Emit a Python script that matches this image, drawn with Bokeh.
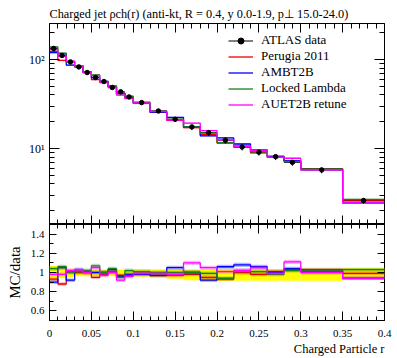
from bokeh.plotting import figure
from bokeh.models import (ColumnDataSource, FixedTicker, LinearAxis, LogAxis, Range1d,
                          Legend, LegendItem, CustomJSTickFormatter, Title)
from bokeh.layouts import column
from bokeh.embed import file_html
from bokeh.resources import INLINE

# ---------------- data ----------------
bin_lo = [0.00, 0.01, 0.02, 0.03, 0.04, 0.05, 0.06, 0.07, 0.08, 0.09,
          0.10, 0.12, 0.14, 0.16, 0.18, 0.20, 0.22, 0.24, 0.26, 0.28,
          0.30, 0.35]
bin_hi = [0.01, 0.02, 0.03, 0.04, 0.05, 0.06, 0.07, 0.08, 0.09, 0.10,
          0.12, 0.14, 0.16, 0.18, 0.20, 0.22, 0.24, 0.26, 0.28, 0.30,
          0.35, 0.40]
atlas_data = [133, 111, 94, 82.6, 71.4, 62.8, 56.6, 48.5, 43.3, 38.0,
              32.8, 26.4, 21.3, 17.5, 15.1, 12.4, 10.4, 9.1, 8.1, 7.0,
              5.75, 2.6]
data_err_up = [0.07, 0.05, 0.04, 0.035, 0.03, 0.03, 0.03, 0.03, 0.03, 0.03,
               0.035, 0.035, 0.035, 0.035, 0.035, 0.035, 0.035, 0.035, 0.035, 0.035,
               0.04, 0.045]
data_err_dn = [0.07, 0.06, 0.05, 0.04, 0.04, 0.04, 0.04, 0.04, 0.04, 0.04,
               0.045, 0.05, 0.065, 0.08, 0.085, 0.085, 0.085, 0.085, 0.085, 0.085,
               0.085, 0.07]

# MC / data ratios
ratio_perugia = [0.93, 0.88, 1.01, 1.00, 1.00, 0.95, 0.98, 1.01, 0.97, 0.97,
                 0.99, 0.97, 0.97, 0.98, 0.95, 0.93, 1.00, 0.98, 1.01, 1.03,
                 1.03, 0.99]
ratio_ambt2b = [0.90, 1.05, 0.92, 1.03, 1.01, 1.00, 1.00, 1.03, 0.96, 0.98,
                0.98, 0.97, 1.05, 1.00, 0.92, 1.06, 1.08, 1.06, 1.00, 1.04,
                1.01, 0.94]
ratio_locked = [1.04, 1.06, 1.00, 1.01, 1.02, 1.07, 1.00, 1.04, 0.95, 1.02,
                1.01, 1.00, 1.00, 1.00, 0.99, 0.94, 1.02, 1.01, 0.98, 1.02,
                1.02, 1.03]
ratio_auet2b = [0.98, 0.98, 1.02, 1.03, 1.00, 1.05, 0.97, 1.00, 0.92, 0.96,
                0.99, 0.99, 0.98, 1.10, 1.05, 1.01, 1.02, 1.05, 0.99, 1.11,
                1.00, 0.94]
mc_rel_err = [0.02, 0.02, 0.02, 0.02, 0.02, 0.02, 0.02, 0.02, 0.02, 0.02,
              0.02, 0.02, 0.02, 0.02, 0.02, 0.02, 0.02, 0.02, 0.02, 0.02,
              0.02, 0.02]

mc_names = ["Perugia 2011", "AMBT2B", "Locked Lambda", "AUET2B retune"]
mc_colors = ["#ee0000", "#0000ff", "#1a7f1a", "#ff00ff"]
mc_ratios = [ratio_perugia, ratio_ambt2b, ratio_locked, ratio_auet2b]

x_major = [0.0, 0.05, 0.1, 0.15, 0.2, 0.25, 0.3, 0.35, 0.4]
x_labels = ["0", "0.05", "0.1", "0.15", "0.2", "0.25", "0.3", "0.35", "0.4"]
x_minor = [i / 100 for i in range(0, 41)]
y_main_major = [10, 100]
y_main_labels = ["10\u00b9", "10\u00b2"]
y_main_minor = [2, 3, 4, 5, 6, 7, 8, 9, 20, 30, 40, 50, 60, 70, 80, 90, 200]
y_ratio_major = [0.6, 0.8, 1.0, 1.2, 1.4]
y_ratio_labels = ["0.6", "0.8", "1", "1.2", "1.4"]
y_ratio_minor = [0.5, 0.7, 0.9, 1.1, 1.3, 1.5]

title_text = "Charged jet \u03c1ch(r) (anti-kt, R = 0.4, y 0.0-1.9, p\u22a5 15.0-24.0)"
xlabel_text = "Charged Particle r"
ylabel_ratio_text = "MC/data"

FONT = "Liberation Serif"
MAIN_YMIN, MAIN_YMAX = 1.4, 254
FRAME_W = 335
MAIN_H = 201
RATIO_H = 96

# ---------------- helpers ----------------
def style_axis(ax, show_labels, major_in, minor_in, size="11px"):
    ax.major_tick_in = major_in
    ax.major_tick_out = 0
    ax.minor_tick_in = minor_in
    ax.minor_tick_out = 0
    ax.axis_line_color = None
    ax.major_tick_line_color = "black"
    ax.minor_tick_line_color = "black"
    ax.major_label_text_font = FONT
    ax.major_label_text_color = "black"
    if show_labels:
        ax.major_label_text_font_size = size
    else:
        ax.formatter = CustomJSTickFormatter(code="return ''")
        ax.major_label_text_font_size = "1px"
        ax.major_label_standoff = 0

def labels_js(ticks, labels):
    pairs = ", ".join("[%r, %r]" % (t, s) for t, s in zip(ticks, labels))
    return CustomJSTickFormatter(code="""
        const pairs = [%s];
        for (const [t, s] of pairs) { if (Math.abs(tick - t) < 1e-9 * Math.max(1, Math.abs(t))) return s; }
        return '';
    """ % pairs)

xr = Range1d(0, 0.4)

# ---------------- main panel ----------------
p = figure(x_range=xr, y_range=Range1d(MAIN_YMIN, MAIN_YMAX), y_axis_type="log",
           frame_width=FRAME_W, frame_height=MAIN_H,
           min_border_left=49, min_border_right=13, min_border_top=23, min_border_bottom=0,
           output_backend="svg", toolbar_location=None)
p.xgrid.visible = False
p.ygrid.visible = False
p.outline_line_color = "black"
p.outline_line_width = 1
p.title.text = title_text
p.title.align = "left"
p.title.text_font = FONT
p.title.text_font_size = "12.3px"
p.title.text_font_style = "normal"
p.title.text_color = "black"
p.title.standoff = 5

xt = FixedTicker(ticks=x_major, minor_ticks=x_minor)
yt = FixedTicker(ticks=y_main_major, minor_ticks=y_main_minor)
p.xaxis[0].ticker = xt
style_axis(p.xaxis[0], False, 9, 5)
p.yaxis[0].ticker = yt
style_axis(p.yaxis[0], True, 10, 5, "12px")
p.yaxis[0].formatter = labels_js(y_main_major, y_main_labels)
p.yaxis[0].major_label_standoff = 5
top_ax = LinearAxis(ticker=xt)
style_axis(top_ax, False, 9, 5)
p.add_layout(top_ax, "above")
right_ax = LogAxis(ticker=yt)
style_axis(right_ax, False, 10, 5)
p.add_layout(right_ax, "right")

edges = bin_lo + [bin_hi[-1]]
mid = [(a + b) / 2 for a, b in zip(bin_lo, bin_hi)]

dsrc = ColumnDataSource(dict(
    x=mid, y=atlas_data, lo=bin_lo, hi=bin_hi,
    ylo=[v * (1 - e) for v, e in zip(atlas_data, data_err_dn)],
    yhi=[v * (1 + e) for v, e in zip(atlas_data, data_err_up)]))
hbar = p.segment(x0="lo", x1="hi", y0="y", y1="y", source=dsrc, line_color="black", line_width=1)

mc_line_renderers = []
for name, col, rat in zip(mc_names, mc_colors, mc_ratios):
    vals = [d * r for d, r in zip(atlas_data, rat)]
    p.quad(left=bin_lo, right=bin_hi,
           bottom=[v * (1 - e) for v, e in zip(vals, mc_rel_err)],
           top=[v * (1 + e) for v, e in zip(vals, mc_rel_err)],
           fill_color=col, fill_alpha=0.3, line_color=None)
    r = p.step(x=edges, y=vals + [vals[-1]], mode="after", line_color=col, line_width=1.3)
    mc_line_renderers.append(r)

vbar = p.segment(x0="x", x1="x", y0="ylo", y1="yhi", source=dsrc, line_color="black", line_width=1)
dots = p.scatter(x="x", y="y", source=dsrc, size=4.5, color="black")

legend_items = [LegendItem(label="ATLAS data", renderers=[hbar, dots])]
for name, r in zip(mc_names, mc_line_renderers):
    legend_items.append(LegendItem(label=name, renderers=[r]))
legend = Legend(items=legend_items, location=(179, 112),
                glyph_width=25, glyph_height=15, label_height=15, label_standoff=8,
                spacing=0, padding=0, margin=0, border_line_color=None,
                background_fill_alpha=0, label_text_font=FONT,
                label_text_font_size="13px", label_text_color="black")
p.add_layout(legend)

# ---------------- ratio panel ----------------
q = figure(x_range=xr, y_range=Range1d(0.5, 1.5),
           frame_width=FRAME_W, frame_height=RATIO_H,
           min_border_left=49, min_border_right=13, min_border_top=0, min_border_bottom=36,
           output_backend="svg", toolbar_location=None)
q.xgrid.visible = False
q.ygrid.visible = False
q.outline_line_color = "black"
q.outline_line_width = 1

yrt = FixedTicker(ticks=y_ratio_major, minor_ticks=y_ratio_minor)
q.xaxis[0].ticker = xt
style_axis(q.xaxis[0], True, 9, 4)
q.xaxis[0].formatter = labels_js(x_major, x_labels)
q.xaxis[0].major_label_standoff = 9
q.yaxis[0].ticker = yrt
style_axis(q.yaxis[0], True, 7, 4)
q.yaxis[0].formatter = labels_js(y_ratio_major, y_ratio_labels)
q.yaxis[0].major_label_standoff = 5
qtop = LinearAxis(ticker=xt)
style_axis(qtop, False, 9, 4)
q.add_layout(qtop, "above")
qright = LinearAxis(ticker=yrt)
style_axis(qright, False, 7, 4)
q.add_layout(qright, "right")

q.quad(left=bin_lo, right=bin_hi,
       bottom=[1 - e for e in data_err_dn], top=[1 + e for e in data_err_up],
       fill_color="#ffff00", line_color=None)
for col, rat in zip(mc_colors, mc_ratios):
    q.quad(left=bin_lo, right=bin_hi,
           bottom=[r * (1 - e) for r, e in zip(rat, mc_rel_err)],
           top=[r * (1 + e) for r, e in zip(rat, mc_rel_err)],
           fill_color=col, fill_alpha=0.3, line_color=None)
    q.step(x=edges, y=rat + [rat[-1]], mode="after", line_color=col, line_width=1.3)

xlab = Title(text=xlabel_text, align="right", text_font=FONT, text_font_size="12.5px",
             text_font_style="normal", text_color="black", standoff=0)
q.add_layout(xlab, "below")
ylab = Title(text=ylabel_ratio_text, align="center", text_font=FONT, text_font_size="15px",
             text_font_style="normal", text_color="black", standoff=9)
q.add_layout(ylab, "left")

layout = column(p, q, spacing=0)
open("out.html", "w").write(file_html(layout, INLINE))
